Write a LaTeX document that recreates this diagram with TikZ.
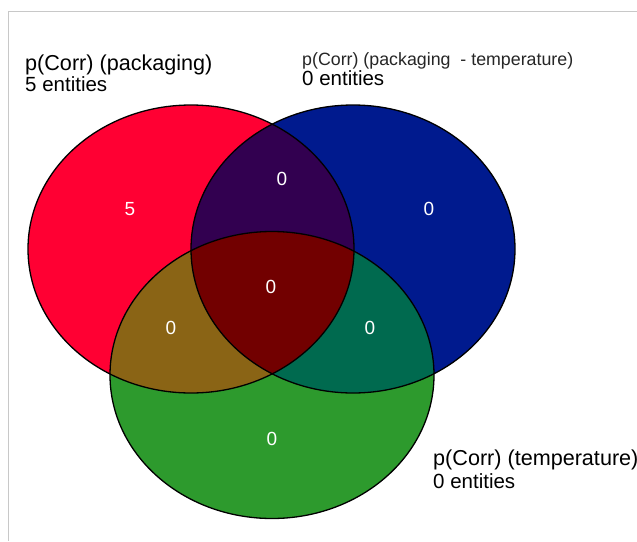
\documentclass[tikz,border=0pt]{standalone}
\usepackage{fontspec}
\setmainfont{Liberation Sans}
\definecolor{cRed}{HTML}{FF0033}
\definecolor{cBlue}{HTML}{001A8E}
\definecolor{cGreen}{HTML}{2D9A2D}
\definecolor{cRB}{HTML}{320050}
\definecolor{cRG}{HTML}{8A6415}
\definecolor{cBG}{HTML}{006A4F}
\definecolor{cRBG}{HTML}{720000}
\definecolor{cFrame}{HTML}{C8C8C8}
\begin{document}
\begin{tikzpicture}[x=1pt,y=-1pt,
  lbl/.style={inner sep=0pt,anchor=base west,font=\fontsize{20.5}{24}\selectfont},
  lblbig/.style={inner sep=0pt,anchor=base west,font=\fontsize{21.6}{24}\selectfont},
  lblthin/.style={inner sep=0pt,anchor=base west,font=\fontsize{17.8}{21}\selectfont,text=black!85},
  num/.style={inner sep=0pt,text=white,font=\fontsize{19}{22}\selectfont},
  outline/.style={draw=black,line width=1.3pt}]
\useasboundingbox (0,0) rectangle (637,541);
\fill[white] (0,0) rectangle (637,541);
\draw[cFrame,line width=1pt] (637,11.5) -- (8.3,11.5) -- (8.3,541);
% base fills
\def\redE{(191,249) ellipse [x radius=163pt, y radius=144pt]}
\def\blueE{(353,249) ellipse [x radius=162pt, y radius=144pt]}
\def\greenE{(272,375) ellipse [x radius=162pt, y radius=143.5pt]}
\fill[cRed] \redE;
\fill[cBlue] \blueE;
\fill[cGreen] \greenE;
\begin{scope}
  \clip \redE;
  \fill[cRB] \blueE;
  \fill[cRG] \greenE;
\end{scope}
\begin{scope}
  \clip \blueE;
  \fill[cBG] \greenE;
\end{scope}
\begin{scope}
  \clip \redE;
  \clip \blueE;
  \fill[cRBG] \greenE;
\end{scope}
\draw[outline] \redE;
\draw[outline] \blueE;
\draw[outline] \greenE;
% labels
\node[lblbig] (la1) at (25,70) {p(Corr) (packaging)};
\node[lbl] (la2) at (25,91.5) {5 entities};
\node[lblthin] (lb1) at (302,65) {p(Corr) (packaging\ \ - temperature)};
\node[lbl] (lb2) at (302,85.5) {0 entities};
\node[lblbig] (lc1) at (433,465.5) {p(Corr) (temperature)};
\node[lbl] (lc2) at (433,488) {0 entities};
% region counts
\node[num] (nR) at (130,209) {5};
\node[num] (nRB) at (282,179) {0};
\node[num] (nB) at (429,209) {0};
\node[num] (nRBG) at (271,286.5) {0};
\node[num] (nRG) at (171,328) {0};
\node[num] (nBG) at (370,328) {0};
\node[num] (nG) at (272,439) {0};
\end{tikzpicture}
\end{document}
